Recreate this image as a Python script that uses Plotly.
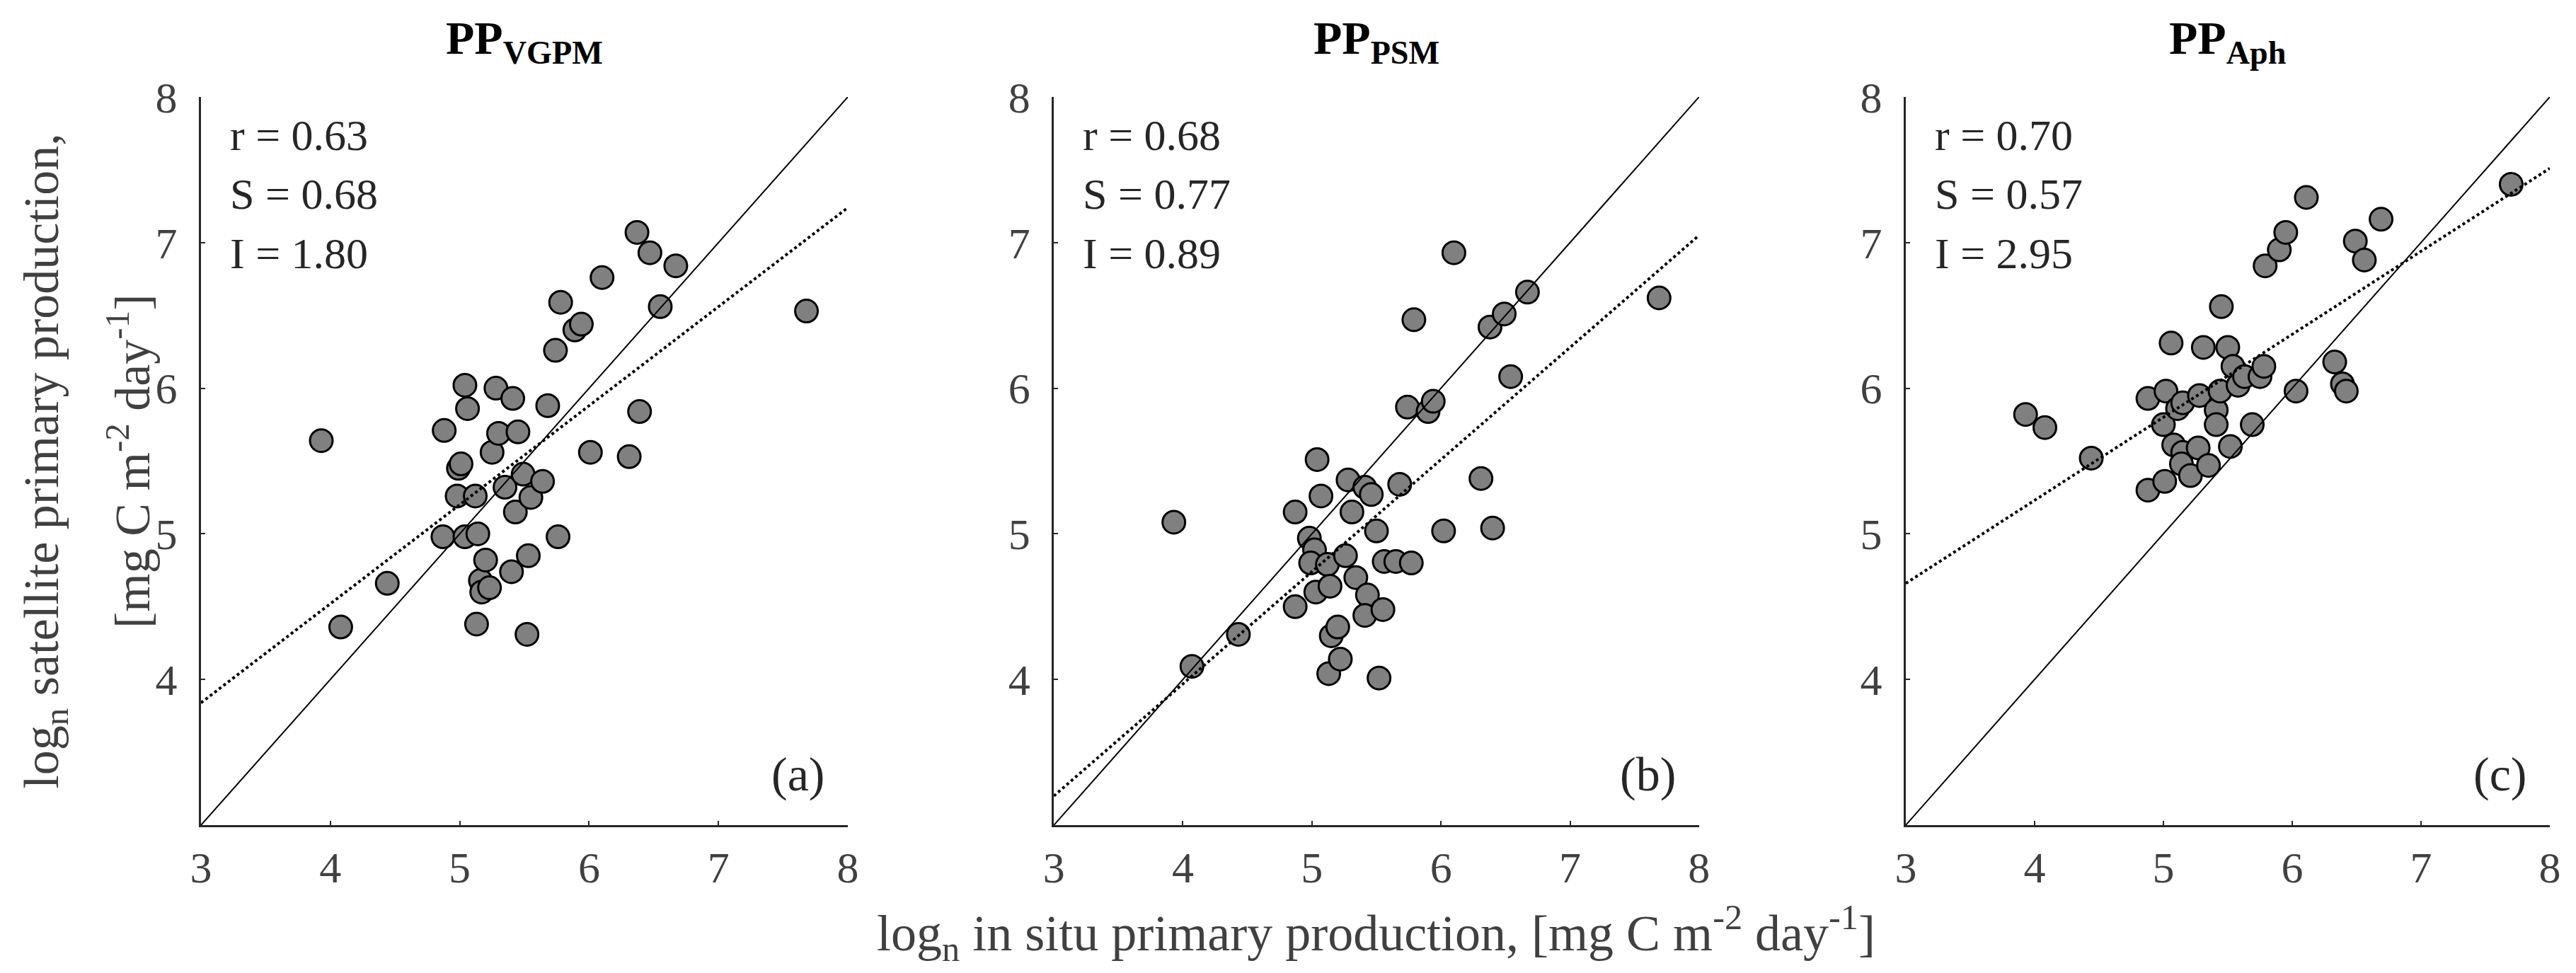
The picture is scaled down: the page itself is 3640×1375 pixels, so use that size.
import plotly.graph_objects as go

# in situ (x) vs satellite (y) primary production, log_n [mg C m-2 day-1]
insitu_vgpm = [3.93, 4.08, 4.44, 4.88, 4.87, 5.04, 5.06, 4.99, 5.01, 4.98, 5.04, 5.12, 5.14, 5.13, 5.16,
               5.17, 5.23, 5.20, 5.25, 5.28, 5.30, 5.35, 5.41, 5.45, 5.43, 5.40, 5.49, 5.55, 5.53, 5.52,
               5.64, 5.68, 5.74, 5.78, 5.76, 5.89, 5.94, 6.01, 6.10, 6.31, 6.39, 6.37, 6.47, 6.55, 6.67, 7.68]
sat_vgpm = [5.64, 4.36, 4.66, 5.71, 4.98, 6.02, 5.86, 5.45, 5.48, 5.26, 4.98, 5.26, 5.00, 4.38, 4.68,
            4.60, 4.63, 4.82, 5.56, 6.00, 5.69, 5.32, 5.93, 5.70, 5.15, 4.74, 5.41, 5.25, 4.85, 4.31,
            5.36, 5.88, 6.26, 6.59, 4.98, 6.40, 6.44, 5.56, 6.76, 5.53, 5.84, 7.07, 6.93, 6.56, 6.84, 6.53]

insitu_psm = [3.93, 4.07, 4.43, 4.87, 4.87, 5.04, 5.07, 4.98, 5.02, 4.99, 5.03, 5.12, 5.14, 5.13, 5.15,
              5.20, 5.22, 5.26, 5.28, 5.31, 5.34, 5.41, 5.46, 5.43, 5.41, 5.50, 5.55, 5.52, 5.56, 5.65,
              5.68, 5.74, 5.79, 5.77, 5.90, 5.94, 6.02, 6.10, 6.31, 6.40, 6.38, 6.49, 6.54, 6.67, 7.69]
sat_psm = [5.08, 4.09, 4.31, 5.15, 4.50, 5.51, 5.26, 4.97, 4.89, 4.80, 4.60, 4.79, 4.64, 4.04, 4.30,
           4.36, 4.14, 4.85, 5.37, 5.15, 4.70, 5.32, 5.27, 4.58, 4.44, 5.02, 4.48, 4.01, 4.81, 4.81,
           5.34, 5.87, 6.47, 4.80, 5.84, 5.91, 5.02, 6.93, 5.38, 5.04, 6.42, 6.51, 6.08, 6.66, 6.62]

insitu_aph = [3.93, 4.08, 4.44, 4.88, 4.88, 5.02, 5.06, 5.00, 5.01, 5.08, 5.11, 5.15, 5.15, 5.14, 5.21,
              5.27, 5.28, 5.31, 5.35, 5.41, 5.41, 5.44, 5.45, 5.50, 5.52, 5.54, 5.58, 5.63, 5.69, 5.75,
              5.78, 5.79, 5.90, 5.95, 6.03, 6.11, 6.33, 6.39, 6.42, 6.49, 6.56, 6.69, 7.70]
sat_aph = [5.82, 5.73, 5.52, 5.93, 5.30, 5.98, 6.31, 5.75, 5.36, 5.61, 5.86, 5.90, 5.56, 5.48, 5.40,
           5.59, 5.95, 6.28, 5.47, 5.85, 5.75, 5.98, 6.56, 6.28, 5.60, 6.15, 6.02, 6.08, 5.75, 6.08,
           6.15, 6.84, 6.95, 7.07, 5.98, 7.31, 6.18, 6.03, 5.98, 7.01, 6.88, 7.16, 7.40]

models = ['VGPM', 'PSM', 'Aph']
panel_labels = ['(a)', '(b)', '(c)']
r_values = [0.63, 0.68, 0.70]
slopes = [0.68, 0.77, 0.57]
intercepts = [1.80, 0.89, 2.95]
line_x = [3, 8]
tick_vals = [3, 4, 5, 6, 7, 8]

xs_all = [insitu_vgpm, insitu_psm, insitu_aph]
ys_all = [sat_vgpm, sat_psm, sat_aph]

FONT = 'Liberation Serif'
domains = [[0, 0.2754], [0.3631, 0.6378], [0.7258, 1.0]]

fig = go.Figure()
layout = dict(width=3640, height=1375, plot_bgcolor='white', paper_bgcolor='white',
              margin=dict(l=276, r=45, t=129, b=217), showlegend=False,
              font=dict(family=FONT, color='#333333'))
annotations = []

for i in range(3):
    sfx = '' if i == 0 else str(i + 1)
    xa, ya = 'x' + sfx, 'y' + sfx

    # data points
    fig.add_trace(go.Scatter(x=xs_all[i], y=ys_all[i], mode='markers', xaxis=xa, yaxis=ya,
                             marker=dict(size=32, color='#808080', line=dict(color='black', width=3))))
    # 1:1 line
    fig.add_trace(go.Scatter(x=line_x, y=line_x, mode='lines', xaxis=xa, yaxis=ya,
                             line=dict(color='black', width=2)))
    # regression line
    fig.add_trace(go.Scatter(x=line_x, y=[slopes[i] * v + intercepts[i] for v in line_x],
                             mode='lines', xaxis=xa, yaxis=ya,
                             line=dict(color='black', width=4, dash='dot')))

    axis_common = dict(range=[3, 8], showline=True, linecolor='#262626', linewidth=3,
                       ticks='inside', ticklen=6, tickwidth=2, tickcolor='#262626',
                       showgrid=False, zeroline=False,
                       tickfont=dict(family=FONT, size=62, color='#404040'))
    layout['xaxis' + sfx] = dict(axis_common, domain=domains[i], anchor=ya, tickvals=tick_vals,
                                 ticklabelstandoff=4)
    layout['yaxis' + sfx] = dict(axis_common, domain=[0, 1], anchor=xa, tickvals=tick_vals[1:],
                                 ticklabelstandoff=18)

    # panel title
    annotations.append(dict(text='<b>PP<sub>' + models[i] + '</sub></b>', xref=xa + ' domain',
                            yref='paper', x=0.5, y=1.034, xanchor='center', yanchor='bottom',
                            showarrow=False, font=dict(family=FONT, size=66, color='black')))
    # statistics, one line each
    stats = ['r = %.2f' % r_values[i], 'S = %.2f' % slopes[i], 'I = %.2f' % intercepts[i]]
    for txt, yy in zip(stats, [0.948, 0.867, 0.785]):
        annotations.append(dict(text=txt, xref=xa + ' domain', yref=ya + ' domain', x=0.0425, y=yy,
                                xanchor='left', yanchor='middle', showarrow=False,
                                font=dict(family=FONT, size=62, color='#262626')))
    # panel letter
    annotations.append(dict(text=panel_labels[i], xref=xa + ' domain', yref=ya + ' domain',
                            x=0.966, y=0.07, xanchor='right', yanchor='middle', showarrow=False,
                            font=dict(family=FONT, size=68, color='#262626')))

# axis titles
annotations.append(dict(text='log<sub>n</sub> satellite primary production,', xref='paper', yref='paper',
                        x=-0.0665, y=0.5, xanchor='center', yanchor='middle', textangle=-90,
                        showarrow=False, font=dict(family=FONT, size=70, color='#404040')))
annotations.append(dict(text='[mg C m<sup>-2</sup> day<sup>-1</sup>]', xref='paper', yref='paper',
                        x=-0.0309, y=0.5, xanchor='center', yanchor='middle', textangle=-90,
                        showarrow=False, font=dict(family=FONT, size=70, color='#404040')))
annotations.append(dict(text='log<sub>n</sub> in situ primary production, [mg C m<sup>-2</sup> day<sup>-1</sup>]',
                        xref='x2 domain', yref='paper', x=0.5, y=-0.148, xanchor='center',
                        yanchor='middle', showarrow=False,
                        font=dict(family=FONT, size=72, color='#404040')))

layout['annotations'] = annotations
fig.update_layout(**layout)
fig.write_html('out.html')
